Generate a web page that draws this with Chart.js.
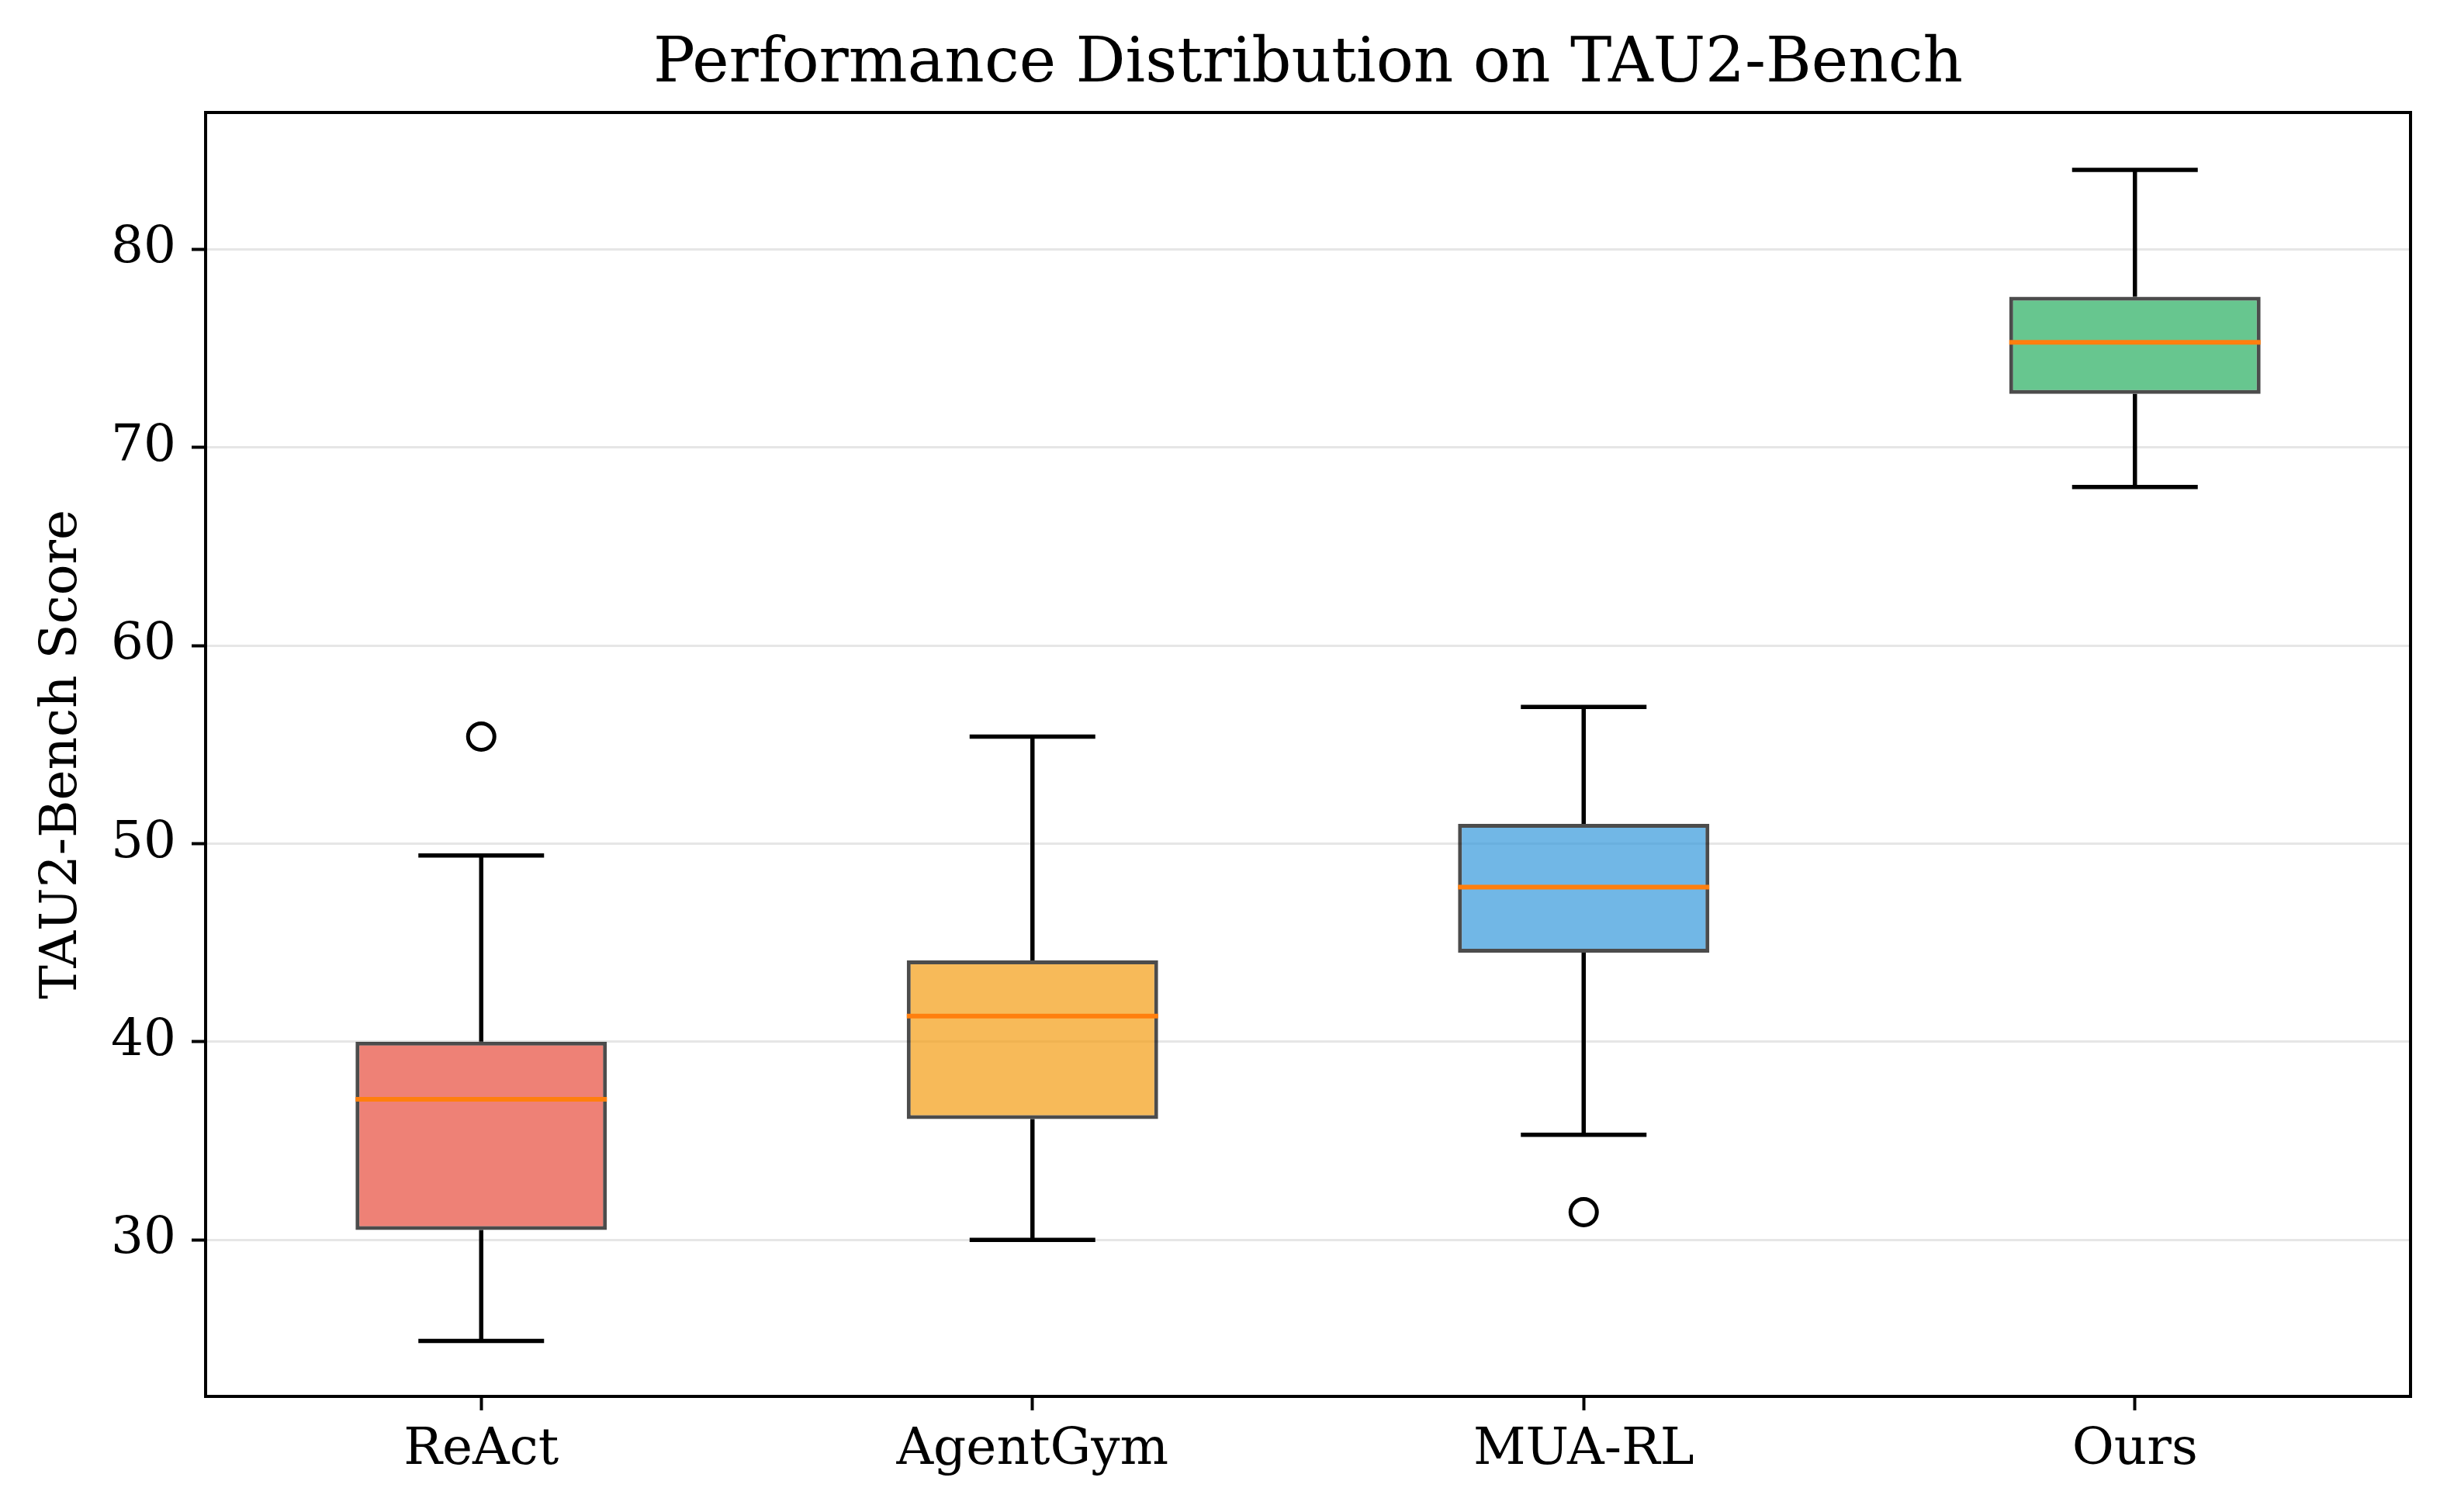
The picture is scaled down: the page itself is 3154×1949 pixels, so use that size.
<!DOCTYPE html>
<html>
<head>
<meta charset="utf-8">
<script src="https://cdn.jsdelivr.net/npm/chart.js@4.4.1/dist/chart.umd.min.js"></script>
<style>
  html, body { margin: 0; padding: 0; background: #fff; }
  #wrap { width: 3154px; height: 1949px; }
</style>
</head>
<body>
<div id="wrap"><canvas id="chart" width="3154" height="1949"></canvas></div>
<script>
/* Box plot of TAU2-Bench scores: floating bars for the boxes, a plugin for whiskers/medians. */
const categories = ['ReAct', 'AgentGym', 'MUA-RL', 'Ours'];
const whiskerLow = [24.9, 30.0, 35.3, 68.0];
const q1 = [30.5, 36.1, 44.5, 72.7];
const median = [37.1, 41.3, 47.8, 75.3];
const q3 = [40.0, 44.1, 51.0, 77.6];
const whiskerHigh = [49.4, 55.4, 56.9, 84.0];
const outliers = [55.4, null, 31.4, null];
const yTicks = [30, 40, 50, 60, 70, 80];
const yMin = 22.1, yMax = 86.9;

const FILL = ['rgba(231,76,60,.7)', 'rgba(243,156,18,.7)', 'rgba(52,152,219,.7)', 'rgba(39,174,96,.7)'];
const FONT = 'DejaVu Serif';

const boxParts = {
  id: 'boxParts',
  afterDatasetsDraw(chart) {
    const { ctx, scales: { y } } = chart;
    const bars = chart.getDatasetMeta(0).data;
    ctx.save();
    ctx.lineCap = 'butt';
    bars.forEach((bar, i) => {
      const x = bar.x, half = bar.width / 2, cap = bar.width / 4;
      ctx.strokeStyle = '#000';
      ctx.lineWidth = 5.5;
      ctx.beginPath();
      ctx.moveTo(x, y.getPixelForValue(q3[i]));
      ctx.lineTo(x, y.getPixelForValue(whiskerHigh[i]));
      ctx.moveTo(x, y.getPixelForValue(q1[i]));
      ctx.lineTo(x, y.getPixelForValue(whiskerLow[i]));
      ctx.moveTo(x - cap, y.getPixelForValue(whiskerHigh[i]));
      ctx.lineTo(x + cap, y.getPixelForValue(whiskerHigh[i]));
      ctx.moveTo(x - cap, y.getPixelForValue(whiskerLow[i]));
      ctx.lineTo(x + cap, y.getPixelForValue(whiskerLow[i]));
      ctx.stroke();
      ctx.strokeStyle = '#ff7f0e';
      ctx.lineWidth = 6;
      ctx.beginPath();
      ctx.moveTo(x - half, y.getPixelForValue(median[i]));
      ctx.lineTo(x + half, y.getPixelForValue(median[i]));
      ctx.stroke();
    });
    ctx.restore();
  },
  afterDraw(chart) {
    const { ctx, chartArea: a } = chart;
    ctx.save();
    ctx.strokeStyle = '#000';
    ctx.lineWidth = 4;
    ctx.strokeRect(a.left, a.top, a.right - a.left, a.bottom - a.top);
    ctx.restore();
  }
};

new Chart(document.getElementById('chart'), {
  type: 'bar',
  data: {
    labels: categories,
    datasets: [
      {
        data: categories.map((c, i) => [q1[i], q3[i]]),
        backgroundColor: FILL,
        borderColor: 'rgba(0,0,0,.7)',
        borderWidth: 5,
        borderSkipped: false,
        categoryPercentage: 1,
        barPercentage: 0.456,
      },
      {
        type: 'line',
        data: outliers,
        showLine: false,
        pointStyle: 'circle',
        pointRadius: 17,
        pointBorderWidth: 5,
        pointBorderColor: '#000',
        pointBackgroundColor: 'rgba(0,0,0,0)',
      },
    ],
  },
  options: {
    responsive: false,
    devicePixelRatio: 1,
    animation: false,
    layout: { padding: { left: 0, right: 47, top: 0, bottom: 0 } },
    plugins: {
      legend: { display: false },
      tooltip: { enabled: false },
    },
    scales: {
      x: {
        offset: true,
        grid: { offset: false, drawOnChartArea: false, drawTicks: true, tickLength: 18, tickColor: '#000', tickWidth: 4 },
        border: { display: true, color: '#000', width: 4 },
        ticks: { color: '#000', padding: 12, font: { family: FONT, size: 66 } },
        afterFit: (s) => { s.height = 149; },
      },
      x2: {
        type: 'category',
        position: 'top',
        labels: categories,
        offset: true,
        grid: { display: false },
        border: { display: false },
        ticks: { display: false },
        title: {
          display: true,
          text: 'Performance Distribution on TAU2-Bench',
          color: '#000',
          font: { family: FONT, size: 80 },
          padding: { top: 36, bottom: 0 },
        },
        afterFit: (s) => { s.height = 145; },
      },
      y: {
        min: yMin,
        max: yMax,
        afterBuildTicks: (s) => { s.ticks = yTicks.map((v) => ({ value: v })); },
        grid: { color: '#e6e6e6', lineWidth: 3, drawTicks: true, tickLength: 18, tickColor: '#000', tickWidth: 4 },
        border: { display: true, color: '#000', width: 4 },
        ticks: { color: '#000', padding: 20, font: { family: FONT, size: 66 } },
        title: {
          display: true,
          text: 'TAU2-Bench Score',
          color: '#000',
          font: { family: FONT, size: 66 },
          padding: { top: 41 },
        },
        afterFit: (s) => { s.width = 265; },
      },
    },
  },
  plugins: [boxParts],
});
</script>
</body>
</html>
